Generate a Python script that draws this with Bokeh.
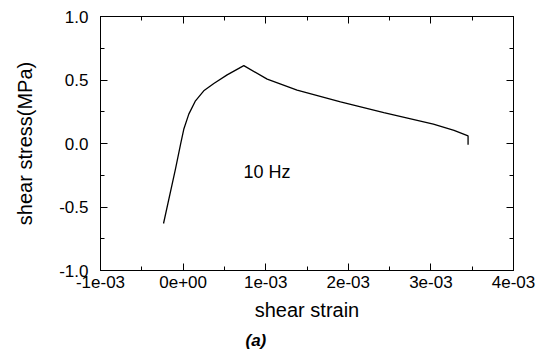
from bokeh.plotting import figure
from bokeh.models import (LinearAxis, FixedTicker, CustomJSTickFormatter, Label,
                          Range1d, Title)
from bokeh.embed import file_html
from bokeh.resources import INLINE

# data (shear strain, shear stress in MPa)
strain = [-0.237e-3, -0.092e-3, -0.031e-3, 0.008e-3, 0.069e-3, 0.15e-3, 0.25e-3,
          0.372e-3, 0.533e-3, 0.735e-3, 1.018e-3, 1.38e-3, 1.906e-3, 2.43e-3,
          3.03e-3, 3.28e-3, 3.45e-3, 3.45e-3]
stress = [-0.63, -0.20, -0.006, 0.112, 0.231, 0.336, 0.415, 0.473, 0.54, 0.613,
          0.507, 0.42, 0.328, 0.244, 0.152, 0.104, 0.06, -0.01]

x_ticks = [-1e-3, 0.0, 1e-3, 2e-3, 3e-3, 4e-3]
x_minor = [-0.5e-3, 0.5e-3, 1.5e-3, 2.5e-3, 3.5e-3]
y_ticks = [-1.0, -0.5, 0.0, 0.5, 1.0]
y_minor = [-0.75, -0.25, 0.25, 0.75]

FONT = "Liberation Sans"

p = figure(width=542, height=354, output_backend="svg", toolbar_location=None,
           x_range=Range1d(-1e-3, 4e-3), y_range=Range1d(-1.0, 1.0),
           min_border_left=100, min_border_right=29, min_border_top=16,
           min_border_bottom=5)
p.grid.visible = False
p.outline_line_color = "black"
p.outline_line_width = 1
p.background_fill_color = "white"
p.border_fill_color = "white"

xfmt = CustomJSTickFormatter(code="""
    return tick.toExponential(0).replace(/e([+-])(\\d)$/, 'e$10$2');
""")
yfmt = CustomJSTickFormatter(code="return tick.toFixed(1);")
blank = CustomJSTickFormatter(code="return '';")

def style(ax, ticks, minor):
    ax.ticker = FixedTicker(ticks=ticks, minor_ticks=minor)
    ax.major_tick_in = 7
    ax.major_tick_out = 0
    ax.minor_tick_in = 4
    ax.minor_tick_out = 0
    ax.axis_line_color = "black"
    ax.major_tick_line_color = "black"
    ax.minor_tick_line_color = "black"
    ax.major_label_text_font = FONT
    ax.major_label_text_font_size = "17px"
    ax.major_label_text_color = "black"
    ax.axis_label_text_font = FONT
    ax.axis_label_text_font_size = "20px"
    ax.axis_label_text_font_style = "normal"
    ax.axis_label_text_color = "black"

xa = p.xaxis[0]
style(xa, x_ticks, x_minor)
xa.formatter = xfmt
xa.axis_label = "shear strain"
xa.major_label_standoff = 5
xa.axis_label_standoff = 8

ya = p.yaxis[0]
style(ya, y_ticks, y_minor)
ya.formatter = yfmt
ya.axis_label = "shear stress(MPa)"
ya.major_label_standoff = 12
ya.axis_label_standoff = 20

top = LinearAxis(formatter=blank)
style(top, x_ticks, x_minor)
top.major_label_text_font_size = "0px"
p.add_layout(top, "above")

right = LinearAxis(formatter=blank)
style(right, y_ticks, y_minor)
right.major_label_text_font_size = "0px"
p.add_layout(right, "right")

p.line(strain, stress, line_color="black", line_width=1.3)

p.add_layout(Label(x=0.73e-3, y=-0.225, text="10 Hz", text_font=FONT,
                   text_font_size="18px", text_color="black",
                   text_baseline="alphabetic"))

cap = Title(text="(a)", align="left", offset=145, text_font=FONT,
            text_font_size="17px", text_font_style="bold italic",
            text_color="black")
p.add_layout(cap, "below")

open("out.html", "w").write(file_html(p, INLINE))
